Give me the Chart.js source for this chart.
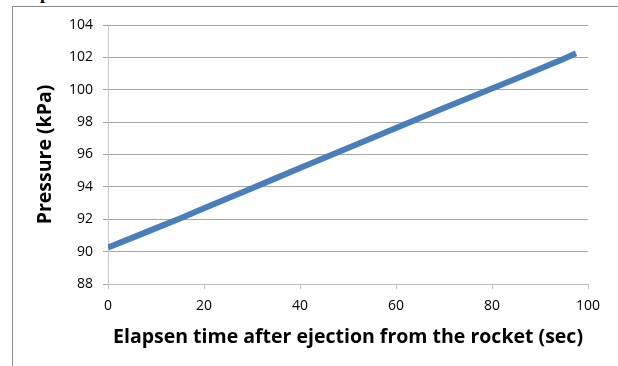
<!DOCTYPE html>
<html>
<head>
<meta charset="utf-8">
<script src="https://cdn.jsdelivr.net/npm/chart.js@4.4.1/dist/chart.umd.min.js"></script>
<style>
  html, body { margin: 0; padding: 0; background: #ffffff; }
  #wrap { position: relative; width: 618px; height: 366px; overflow: hidden; }
  #frame { position: absolute; left: 12px; top: 6px; width: 700px; height: 400px;
           border-left: 1px solid #8a8a8a; border-top: 1px solid #8a8a8a; }
  #cap { position: absolute; left: 40px; top: -17px; font: bold 18px "Liberation Serif", serif; color: #000; }
  canvas { position: absolute; left: 0; top: 0; }
</style>
</head>
<body>
<div id="wrap">
  <div id="frame"></div>
  <div id="cap">p</div>
  <canvas id="c" width="618" height="366"></canvas>
</div>
<script>
const timeSec = [0, 5, 10, 15, 20, 25, 30, 35, 40, 45, 50, 55, 60, 65, 70, 75, 80, 85, 90, 95, 97.5];
const pressureKPa = [90.25, 90.85, 91.45, 92.05, 92.68, 93.3, 93.92, 94.54, 95.16, 95.78, 96.4, 97.02, 97.64, 98.26, 98.87, 99.48, 100.08, 100.68, 101.3, 101.92, 102.25];
const xTicks = [0, 20, 40, 60, 80, 100];
const yTicks = [88, 90, 92, 94, 96, 98, 100, 102, 104];
const xTitle = 'Elapsen time after ejection from the rocket (sec)';
const yTitle = 'Pressure (kPa)';

const points = timeSec.map((t, i) => ({ x: t, y: pressureKPa[i] }));
const tickFont = { family: '"Open Sans", sans-serif', size: 14 };
const titleFont = { family: '"Open Sans", sans-serif', size: 19.5, weight: 'bold' };

new Chart(document.getElementById('c'), {
  type: 'line',
  data: {
    datasets: [{
      data: points,
      borderColor: '#4a7ebb',
      borderWidth: 6,
      pointRadius: 0,
      tension: 0,
      fill: false
    }]
  },
  options: {
    responsive: false,
    animation: false,
    events: [],
    layout: { padding: { top: 25, right: 30, left: 0, bottom: 0 } },
    plugins: { legend: { display: false }, tooltip: { enabled: false } },
    scales: {
      x: {
        type: 'linear',
        min: 0, max: 100,
        afterBuildTicks: s => { s.ticks = xTicks.map(v => ({ value: v })); },
        afterFit: s => { s.height = 82; },
        ticks: { font: tickFont, color: '#000', padding: 9, maxRotation: 0 },
        grid: { display: true, drawOnChartArea: false, drawTicks: true, tickLength: 5, color: '#bdbdbd' },
        border: { display: true, color: '#bdbdbd', width: 1 },
        title: { display: true, text: xTitle, font: titleFont, color: '#000', padding: { top: 0, bottom: 17 } }
      },
      y: {
        type: 'linear',
        min: 88, max: 104,
        afterBuildTicks: s => { s.ticks = yTicks.map(v => ({ value: v })); },
        afterFit: s => { s.width = 108; },
        ticks: { font: tickFont, color: '#000', padding: 10 },
        grid: { display: true, drawTicks: true, tickLength: 5, color: '#a6a6a6' },
        border: { display: true, color: '#c8c8c8', width: 1 },
        title: { display: true, text: yTitle, font: titleFont, color: '#000', padding: { top: 34, bottom: 0 } }
      }
    }
  }
});
</script>
</body>
</html>
